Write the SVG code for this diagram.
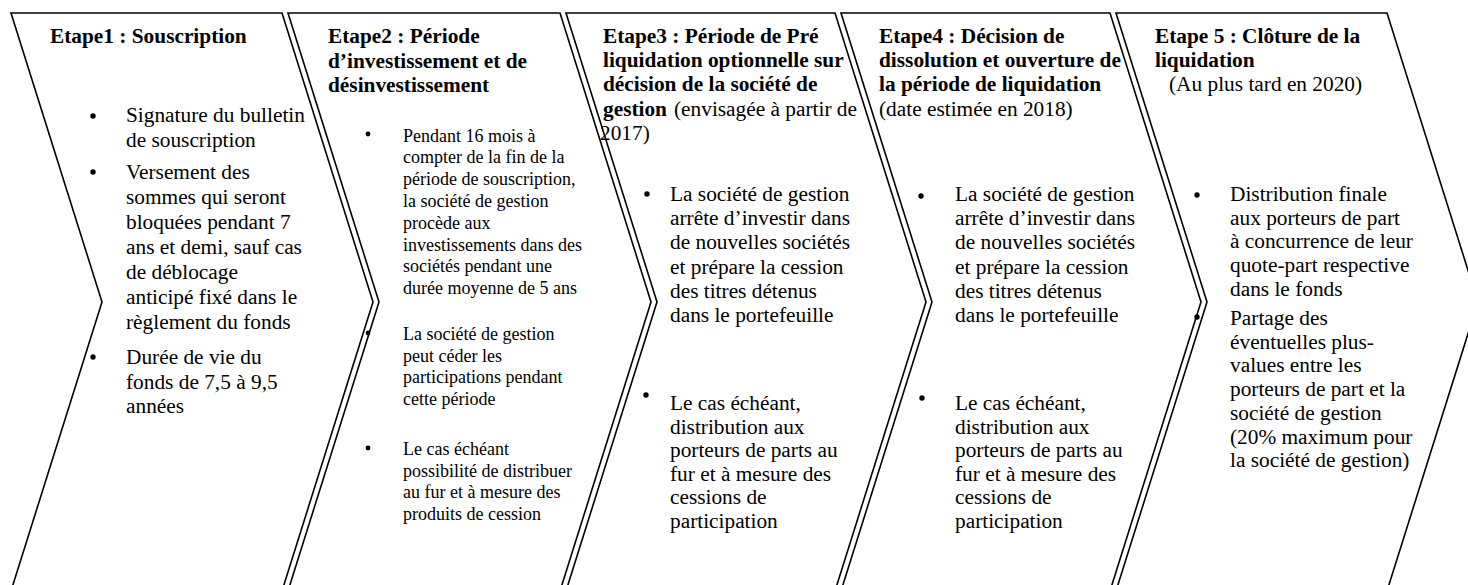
<svg xmlns="http://www.w3.org/2000/svg" width="1468" height="585" viewBox="0 0 1468 585">
<style>
.shape{fill:none;stroke:#000;stroke-width:1.6;stroke-linejoin:miter}
text{font-family:"Liberation Serif","Times New Roman",serif;fill:#000}
.t{font-size:21.33px;font-weight:bold}
.b{font-size:21.33px}
.s{font-size:18px}
.n{font-weight:normal}
.dot{fill:#000}
</style>
<rect x="0" y="0" width="1468" height="585" fill="#fff"/>
<g id="connectors"/>
<g id="etape1">
<path class="shape" d="M11,13 L282,13 L373,302 L282,591 L11,591 L102,302 Z"/>
<text class="t" x="50" y="43">Etape1 : Souscription</text>
<circle class="dot" cx="93" cy="116" r="2.7"/>
<circle class="dot" cx="93" cy="172" r="2.7"/>
<circle class="dot" cx="93" cy="357" r="2.7"/>
<text class="b">
<tspan x="126" y="122">Signature du bulletin</tspan>
<tspan x="126" y="146.5">de souscription</tspan>
<tspan x="126" y="179">Versement des</tspan>
<tspan x="126" y="204">sommes qui seront</tspan>
<tspan x="126" y="229">bloquées pendant 7</tspan>
<tspan x="126" y="254">ans et demi, sauf cas</tspan>
<tspan x="126" y="279">de déblocage</tspan>
<tspan x="126" y="304">anticipé fixé dans le</tspan>
<tspan x="126" y="329">règlement du fonds</tspan>
<tspan x="126" y="364">Durée de vie du</tspan>
<tspan x="126" y="388.5">fonds de 7,5 à 9,5</tspan>
<tspan x="126" y="413">années</tspan>
</text>
</g>
<g id="etape2">
<path class="shape" d="M288,13 L560,13 L651,302 L560,591 L288,591 L379,302 Z"/>
<text class="t">
<tspan x="328" y="43">Etape2 : Période</tspan>
<tspan x="328" y="67.5">d’investissement et de</tspan>
<tspan x="328" y="92">désinvestissement</tspan>
</text>
<circle class="dot" cx="368" cy="134" r="2.4"/>
<circle class="dot" cx="368" cy="333" r="2.4"/>
<circle class="dot" cx="368" cy="448" r="2.4"/>
<text class="s">
<tspan x="403" y="141.5">Pendant 16 mois à</tspan>
<tspan x="403" y="163.3">compter de la fin de la</tspan>
<tspan x="403" y="185.1">période de souscription,</tspan>
<tspan x="403" y="206.9">la société de gestion</tspan>
<tspan x="403" y="228.7">procède aux</tspan>
<tspan x="403" y="250.5">investissements dans des</tspan>
<tspan x="403" y="272.3">sociétés pendant une</tspan>
<tspan x="403" y="294.1">durée moyenne de 5 ans</tspan>
<tspan x="403" y="340">La société de gestion</tspan>
<tspan x="403" y="361.7">peut céder les</tspan>
<tspan x="403" y="383.4">participations pendant</tspan>
<tspan x="403" y="405.1">cette période</tspan>
<tspan x="403" y="455">Le cas échéant</tspan>
<tspan x="403" y="476.7">possibilité de distribuer</tspan>
<tspan x="403" y="498.4">au fur et à mesure des</tspan>
<tspan x="403" y="520.1">produits de cession</tspan>
</text>
</g>
<g id="etape3">
<path class="shape" d="M566,13 L835,13 L926,302 L835,591 L566,591 L657,302 Z"/>
<text class="t">
<tspan x="603" y="43">Etape3 : Période de Pré</tspan>
<tspan x="603" y="67.2">liquidation optionnelle sur</tspan>
<tspan x="603" y="91.4">décision de la société de</tspan>
<tspan x="603" y="115.6">gestion</tspan><tspan class="n" x="674" y="115.6">(envisagée à partir de</tspan>
<tspan class="n" x="600" y="139.8">2017)</tspan>
</text>
<circle class="dot" cx="647" cy="194" r="2.7"/>
<circle class="dot" cx="646" cy="395" r="2.7"/>
<text class="b">
<tspan x="670" y="201">La société de gestion</tspan>
<tspan x="670" y="225.2">arrête d’investir dans</tspan>
<tspan x="670" y="249.4">de nouvelles sociétés</tspan>
<tspan x="670" y="273.6">et prépare la cession</tspan>
<tspan x="670" y="297.8">des titres détenus</tspan>
<tspan x="670" y="322">dans le portefeuille</tspan>
<tspan x="670" y="410">Le cas échéant,</tspan>
<tspan x="670" y="433.5">distribution aux</tspan>
<tspan x="670" y="457">porteurs de parts au</tspan>
<tspan x="670" y="480.5">fur et à mesure des</tspan>
<tspan x="670" y="504">cessions de</tspan>
<tspan x="670" y="527.5">participation</tspan>
</text>
</g>
<g id="etape4">
<path class="shape" d="M841,13 L1110,13 L1201,302 L1110,591 L841,591 L932,302 Z"/>
<text class="t">
<tspan x="879" y="43">Etape4 : Décision de</tspan>
<tspan x="879" y="67.2">dissolution et ouverture de</tspan>
<tspan x="879" y="91.4">la période de liquidation</tspan>
<tspan class="n" x="879" y="115.6">(date estimée en 2018)</tspan>
</text>
<circle class="dot" cx="921" cy="196" r="2.7"/>
<circle class="dot" cx="922" cy="398" r="2.7"/>
<text class="b">
<tspan x="955" y="201">La société de gestion</tspan>
<tspan x="955" y="225.2">arrête d’investir dans</tspan>
<tspan x="955" y="249.4">de nouvelles sociétés</tspan>
<tspan x="955" y="273.6">et prépare la cession</tspan>
<tspan x="955" y="297.8">des titres détenus</tspan>
<tspan x="955" y="322">dans le portefeuille</tspan>
<tspan x="955" y="410">Le cas échéant,</tspan>
<tspan x="955" y="433.5">distribution aux</tspan>
<tspan x="955" y="457">porteurs de parts au</tspan>
<tspan x="955" y="480.5">fur et à mesure des</tspan>
<tspan x="955" y="504">cessions de</tspan>
<tspan x="955" y="527.5">participation</tspan>
</text>
</g>
<g id="etape5">
<path class="shape" d="M1116,13 L1387,13 L1478,302 L1387,591 L1116,591 L1207,302 Z"/>
<text class="t">
<tspan x="1155" y="43">Etape 5 : Clôture de la</tspan>
<tspan x="1155" y="67.2">liquidation</tspan>
<tspan class="n" x="1169" y="91.4">(Au plus tard en 2020)</tspan>
</text>
<circle class="dot" cx="1197" cy="195" r="2.7"/>
<circle class="dot" cx="1197" cy="317" r="2.7"/>
<text class="b">
<tspan x="1230" y="201">Distribution finale</tspan>
<tspan x="1230" y="224.7">aux porteurs de part</tspan>
<tspan x="1230" y="248.4">à concurrence de leur</tspan>
<tspan x="1230" y="272.1">quote-part respective</tspan>
<tspan x="1230" y="295.8">dans le fonds</tspan>
<tspan x="1230" y="325">Partage des</tspan>
<tspan x="1230" y="348.7">éventuelles plus-</tspan>
<tspan x="1230" y="372.4">values entre les</tspan>
<tspan x="1230" y="396.1">porteurs de part et la</tspan>
<tspan x="1230" y="419.8">société de gestion</tspan>
<tspan x="1230" y="443.5">(20% maximum pour</tspan>
<tspan x="1230" y="467.2">la société de gestion)</tspan>
</text>
</g>
</svg>
